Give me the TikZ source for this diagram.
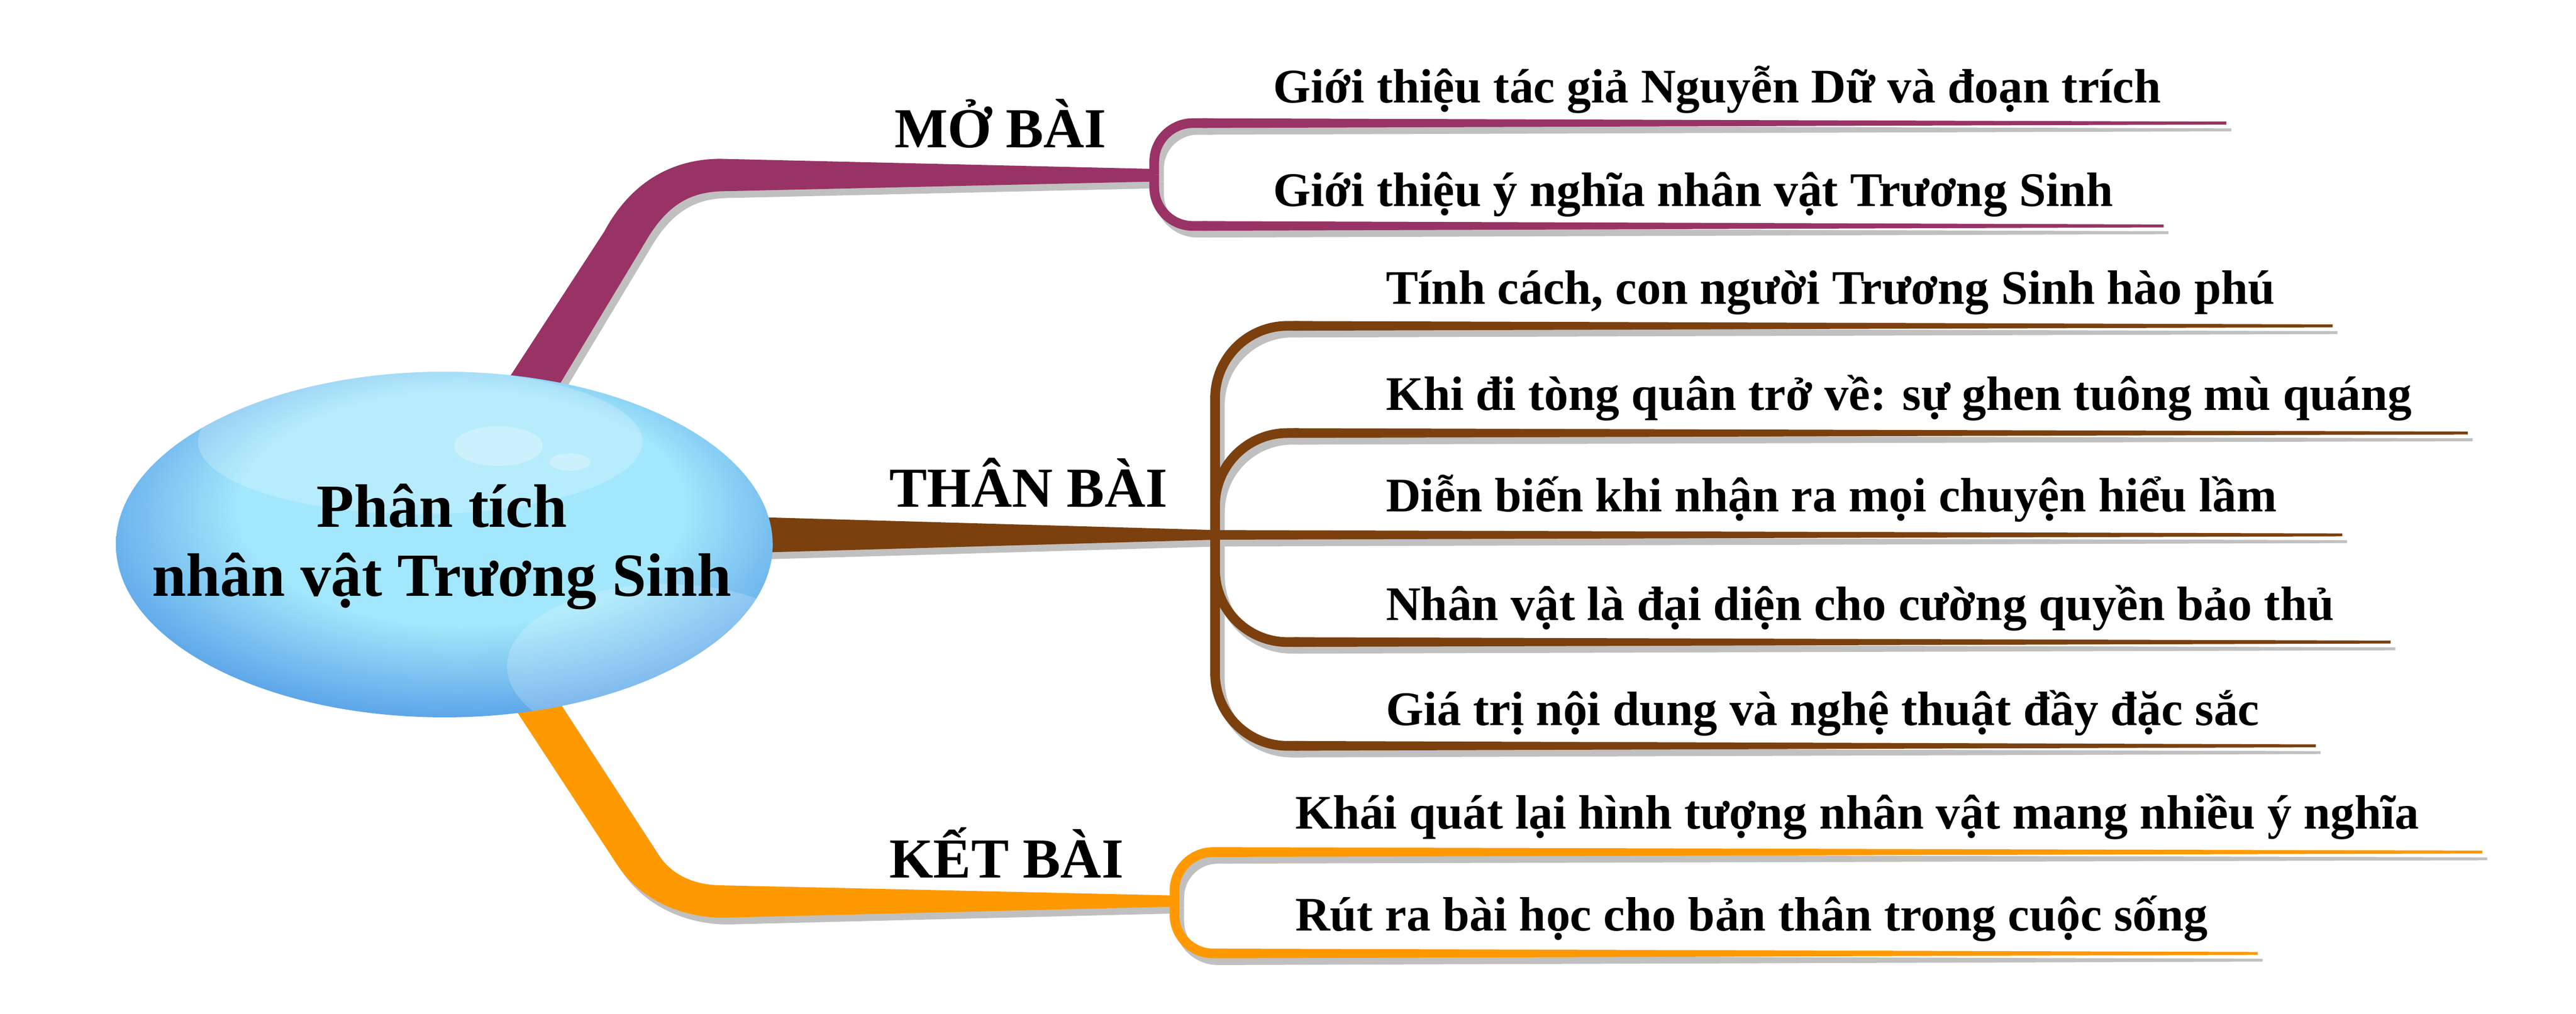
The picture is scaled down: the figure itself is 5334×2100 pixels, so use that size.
\documentclass[tikz,border=0pt]{standalone}
\usepackage{fontspec}
\setmainfont{Liberation Serif}
\usetikzlibrary{shapes.geometric}

\definecolor{mbpurple}{HTML}{993366}
\definecolor{mbbrown}{HTML}{7B400E}
\definecolor{mborange}{HTML}{FF9900}
\definecolor{mbshadow}{HTML}{C0C0C0}
\definecolor{bubblein}{HTML}{A2E7FB}
\definecolor{bubbleout}{HTML}{428CE2}
\pgfdeclareradialshading{bubble}{\pgfpoint{2bp}{8bp}}{color(0bp)=(bubblein); color(17bp)=(bubblein); color(33bp)=(bubbleout); color(50bp)=(bubbleout)}

\tikzset{
  twig/.style={line width=2pt, rounded corners=15pt},
  topic/.style={anchor=base west, inner sep=0pt, font=\fontsize{11.7}{14}\selectfont\bfseries},
  leaf/.style={anchor=base west, inner sep=0pt, font=\fontsize{10}{12}\selectfont\bfseries},
}

\begin{document}
\begin{tikzpicture}[x=0.1pt, y=-0.1pt]
  \useasboundingbox (0,0) rectangle (5334,2100);

  % grey shadow first, then the branches in colour
  \foreach \cm/\ct/\ck/\dx/\dy in {mbshadow/mbshadow/mbshadow/10/14, mbpurple/mbbrown/mborange/0/0} {
  \begin{scope}[shift={(\dx,\dy)}]
    \coordinate (jmo) at (2390,362);
    \coordinate (jthan) at (2516,1108);
    \coordinate (jket) at (2432,1866);
    % MO BAI
    \fill[\cm] (1024,829) -- (1251,480) .. controls (1310,370) and (1400,329) .. (1492,329) -- (2392,350) -- (2392,376) -- (1504,396) .. controls (1440,396) and (1390,415) .. (1343,490) -- (1130,844) -- cycle;
    \foreach \y/\xe in {255/4610, 468/4480} {
      \draw[twig, \cm, rounded corners=8pt] (jmo) |- (2500,\y);
      \fill[\cm] (2490,\y-10) -- (\xe,\y-3) -- (\xe,\y+3) -- (2490,\y+10) -- cycle;
    }
    % THAN BAI
    \fill[\ct] (1560,1071) -- (2516,1098) -- (2516,1118) -- (1560,1145) -- cycle;
    \fill[\ct] (2500,1098) -- (4850,1105) -- (4850,1111) -- (2500,1118) -- cycle;
    \foreach \y/\xe in {675/4830, 897/5110, 1330/4950, 1545/4795} {
      \draw[twig, \ct] (jthan) |- (2690,\y);
      \fill[\ct] (2680,\y-10) -- (\xe,\y-3) -- (\xe,\y+3) -- (2680,\y+10) -- cycle;
    }
    % KET BAI
    \fill[\ck] (1025,1405) -- (1277,1790) .. controls (1330,1870) and (1420,1901) .. (1497,1901) -- (2434,1878) -- (2434,1855) -- (1497,1834) .. controls (1440,1834) and (1390,1815) .. (1359,1764) -- (1129,1410) -- cycle;
    \foreach \y/\xe in {1765/5140, 1975/4675} {
      \draw[twig, \ck, rounded corners=8pt] (jket) |- (2540,\y);
      \fill[\ck] (2530,\y-10) -- (\xe,\y-3) -- (\xe,\y+3) -- (2530,\y+10) -- cycle;
    }
  \end{scope}
  }

  % the bubble
  \node[ellipse, minimum width=136pt, minimum height=71.6pt, inner sep=0pt, shade, shading=bubble] (root) at (920,1128) {};
  \begin{scope}
    \clip (920,1128) ellipse [x radius=680, y radius=358];
    \fill[white, opacity=0.22] (870,915) ellipse [x radius=460, y radius=150];
    \fill[white, opacity=0.3] (1032,924) ellipse [x radius=92, y radius=41];
    \fill[white, opacity=0.3] (1180,957) ellipse [x radius=42, y radius=18];
    \fill[white, opacity=0.2] (1380,1380) ellipse [x radius=330, y radius=170];
  \end{scope}
  \node[align=center, inner sep=0pt, font=\fontsize{12.7}{14.3}\selectfont\bfseries] (roottext) at (915,1133) {Phân tích\\nhân vật Trương Sinh};

  \node[topic] (mo) at (1850,306) {MỞ BÀI};
  \node[topic] (than) at (1840,1050) {THÂN BÀI};
  \node[topic] (ket) at (1840,1818) {KẾT BÀI};

  \foreach \y/\t [count=\i] in {213/Giới thiệu tác giả Nguyễn Dữ và đoạn trích, 427/Giới thiệu ý nghĩa nhân vật Trương Sinh}
    \node[leaf] (mo\i) at (2635,\y) {\t};
  \foreach \y/\t [count=\i] in {630/{Tính cách, con người Trương Sinh hào phú}, 850/Khi đi tòng quân trở về: sự ghen tuông mù quáng, 1060/Diễn biến khi nhận ra mọi chuyện hiểu lầm, 1285/Nhân vật là đại diện cho cường quyền bảo thủ, 1503/Giá trị nội dung và nghệ thuật đầy đặc sắc}
    \node[leaf] (than\i) at (2868,\y) {\t};
  \foreach \y/\t [count=\i] in {1717/Khái quát lại hình tượng nhân vật mang nhiều ý nghĩa, 1928/Rút ra bài học cho bản thân trong cuộc sống}
    \node[leaf] (ket\i) at (2680,\y) {\t};
\end{tikzpicture}
\end{document}
